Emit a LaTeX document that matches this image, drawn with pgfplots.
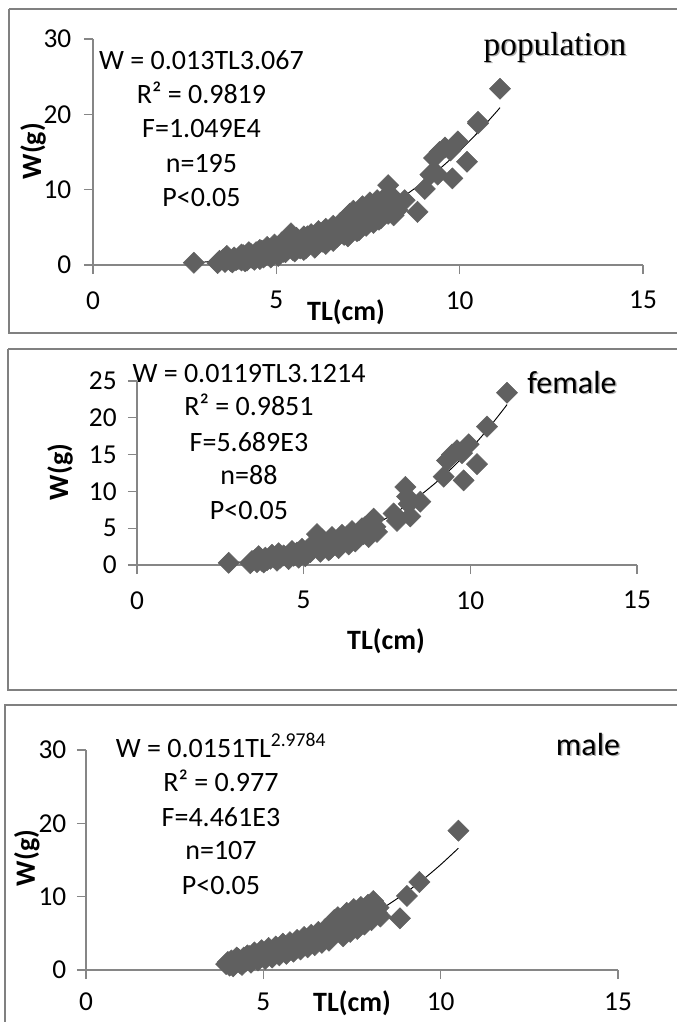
\documentclass[border=0pt]{standalone}
\usepackage{pgfplots}
\pgfplotsset{compat=1.18}
\usepackage{pgfplotstable}
\usepackage{fontspec}
\setmainfont{Carlito}
\newfontfamily\seriffont{Liberation Serif}

\definecolor{axgray}{RGB}{134,134,134}
\definecolor{boxgray}{RGB}{128,128,128}
\definecolor{mk}{RGB}{96,96,96}

% female, n=88
\pgfplotstableread{
x y
2.75 0.30
3.40 0.25
3.45 0.55
3.55 0.75
3.60 0.40
3.65 1.20
3.70 0.90
3.75 0.55
3.80 0.35
3.85 1.00
3.90 0.65
4.00 0.85
4.05 1.40
4.10 1.10
4.20 0.60
4.25 1.60
4.30 1.00
4.40 1.30
4.50 1.15
4.55 0.80
4.60 1.50
4.65 1.90
4.70 1.25
4.80 1.70
4.85 1.00
4.90 1.45
4.95 2.20
5.00 1.60
5.05 1.20
5.10 2.00
5.20 1.75
5.25 2.70
5.30 2.40
5.40 4.20
5.45 3.40
5.50 1.80
5.55 3.50
5.60 2.60
5.70 3.00
5.75 2.00
5.80 2.20
5.85 3.80
5.90 3.30
6.00 2.90
6.05 2.30
6.10 3.60
6.15 4.10
6.20 3.20
6.30 3.90
6.35 2.80
6.40 3.50
6.45 4.60
6.50 4.30
6.55 3.20
6.60 3.80
6.70 4.60
6.75 5.00
6.80 4.20
6.85 5.20
6.90 4.80
6.95 3.80
7.00 5.60
7.05 6.00
7.10 6.30
7.15 5.20
7.20 4.50
7.70 7.00
7.80 6.00
8.05 10.60
8.10 9.30
8.15 8.30
8.20 6.60
8.50 8.60
9.20 12.00
9.30 14.20
9.45 15.00
9.60 15.60
9.75 15.20
9.80 11.50
9.95 16.40
10.20 13.70
10.50 18.80
11.10 23.40
}\female

% male, n=107
\pgfplotstableread{
x y
3.95 0.80
4.00 1.10
4.05 0.60
4.10 1.30
4.15 0.50
4.20 1.00
4.25 1.70
4.30 1.50
4.35 0.90
4.40 0.70
4.45 1.70
4.50 1.20
4.55 2.00
4.60 1.90
4.65 1.00
4.70 1.40
4.75 2.40
4.80 2.10
4.85 1.30
4.90 1.70
4.95 2.70
5.00 2.30
5.05 1.50
5.10 1.90
5.15 3.00
5.20 2.60
5.25 1.70
5.30 2.10
5.35 3.20
5.40 2.90
5.45 2.00
5.50 2.40
5.55 3.60
5.60 3.30
5.65 2.20
5.70 2.70
5.75 3.80
5.80 3.40
5.85 2.50
5.90 2.90
5.95 4.10
6.00 3.80
6.05 2.80
6.10 3.20
6.15 4.50
6.20 4.20
6.25 3.10
6.30 3.60
6.35 4.80
6.40 4.40
6.45 3.40
6.50 3.90
6.55 5.20
6.60 4.80
6.65 3.70
6.70 4.20
6.75 5.60
6.80 5.20
6.85 4.00
6.90 4.50
6.95 6.00
7.00 6.80
7.05 5.50
7.10 7.20
7.15 6.50
7.20 5.00
7.25 4.60
7.30 6.30
7.35 7.80
7.40 7.50
7.45 5.20
7.50 6.00
7.55 8.30
7.60 8.00
7.65 5.60
7.70 6.50
7.75 8.60
7.80 8.30
7.85 6.20
7.90 7.20
7.95 8.90
8.00 8.80
8.05 6.80
8.10 9.40
8.15 9.00
8.20 7.80
8.25 8.50
8.30 7.30
8.85 7.05
9.05 10.10
9.40 12.00
10.50 19.00
}\male

% fitted power curves W = a TL^b, values at the listed TL
\pgfplotstableread{
x y
2.8 0.306
3.0 0.378
3.5 0.606
4.0 0.913
4.5 1.31
5.0 1.81
5.5 2.42
6.0 3.17
6.5 4.05
7.0 5.08
7.5 6.28
8.0 7.65
8.5 9.21
9.0 10.98
9.5 12.96
10.0 15.17
10.5 17.62
11.0 20.32
11.1 20.90
}\popfit

\pgfplotstableread{
x y
2.8 0.296
3.0 0.367
3.5 0.594
4.0 0.901
4.5 1.30
5.0 1.81
5.5 2.44
6.0 3.20
6.5 4.10
7.0 5.17
7.5 6.41
8.0 7.84
8.5 9.48
9.0 11.33
9.5 13.41
10.0 15.74
10.5 18.33
11.0 21.19
11.1 21.80
}\femfit

\pgfplotstableread{
x y
4.0 0.938
4.5 1.332
5.0 1.823
5.5 2.42
6.0 3.14
6.5 3.98
7.0 4.97
7.5 6.10
8.0 7.39
8.5 8.85
9.0 10.50
9.5 12.33
10.0 14.37
10.5 16.61
}\malefit

\pgfplotsset{
  panel/.style={
    scale only axis,
    anchor=south west,
    axis lines=left,
    axis line style={-, draw=axgray, line width=0.9pt},
    tick style={draw=axgray, line width=0.9pt},
    major tick length=6.75pt,
    tick align=outside,
    xmin=0, xmax=15, ymin=0,
    xtick={0,5,10,15},
    clip=false,
    /pgf/number format/assume math mode=true,
    ticklabel style={font=\fontsize{20.5}{24}\selectfont},
    label style={font=\bfseries\fontsize{21}{25}\selectfont},
  },
  pts/.style={only marks, mark=square*, mark size=5.6pt,
    mark options={rotate=45, draw=mk, fill=mk}},
  fit/.style={black, line width=0.7pt, smooth, no marks},
}

\begin{document}
\begin{tikzpicture}
\path[use as bounding box] (0,0) rectangle (507pt,-766.5pt);

% population
\begin{axis}[panel,
  at={(69.75pt,-198.75pt)}, width=412.5pt, height=169.5pt,
  ymax=30, ytick={0,10,20,30},
  xticklabel style={yshift=-9.5pt},
  yticklabel style={xshift=-6pt},
  xlabel={TL(cm)}, ylabel={W(g)},
  xlabel style={at={(rel axis cs:0.46,-0.208)}, anchor=center},
  ylabel style={at={(rel axis cs:-0.109,0.504)}, anchor=center},
]
\addplot[pts] table {\female};
\addplot[pts] table {\male};
\addplot[fit] table {\popfit};
\end{axis}

% female
\begin{axis}[panel,
  at={(102.75pt,-423.75pt)}, width=375pt, height=138pt,
  ymax=25, ytick={0,5,10,15,20,25},
  xticklabel style={yshift=-9.5pt},
  yticklabel style={xshift=-5pt},
  xlabel={TL(cm)}, ylabel={W(g)},
  xlabel style={at={(rel axis cs:0.498,-0.413)}, anchor=center},
  ylabel style={at={(rel axis cs:-0.154,0.505)}, anchor=center},
]
\addplot[pts] table {\female};
\addplot[fit] table {\femfit};
\end{axis}

% male
\begin{axis}[panel,
  at={(64.5pt,-727.5pt)}, width=399pt, height=165pt,
  ymax=30, ytick={0,10,20,30},
  xticklabel style={yshift=-7pt},
  yticklabel style={xshift=-4.5pt},
  xlabel={TL(cm)}, ylabel={W(g)},
  xlabel style={at={(rel axis cs:0.5,-0.15)}, anchor=center},
  ylabel style={at={(rel axis cs:-0.111,0.509)}, anchor=center},
]
\addplot[pts] table {\male};
\addplot[fit] table {\malefit};
\end{axis}

\begin{scope}[x=0.75pt, y=-0.75pt]
  % frames
  \draw[boxgray, line width=1.6pt] (9,9) -- (700,9) (9,9) -- (9,333) -- (700,333);
  \draw[boxgray, line width=1.6pt] (8,349) -- (700,349) (8,349) -- (8,690) -- (700,690);
  \draw[boxgray, line width=1.6pt] (5,1040) -- (5,705) -- (700,705);

  \begin{scope}[every node/.style={anchor=base, inner sep=0pt,
      font=\fontsize{21}{25}\selectfont}]
    \node at (201.5,69) {W = 0.013TL3.067};
    \node at (201.5,103) {R² = 0.9819};
    \node at (201.5,137) {F=1.049E4};
    \node at (201.5,172) {n=195};
    \node at (201.5,206) {P<0.05};

    \node at (249,382) {W = 0.0119TL3.1214};
    \node at (249,415) {R² = 0.9851};
    \node at (249,451) {F=5.689E3};
    \node at (249,484) {n=88};
    \node at (249,519) {P<0.05};

    \node at (221,757) {W = 0.0151TL\textsuperscript{2.9784}};
    \node at (221,791) {R² = 0.977};
    \node at (221,826) {F=4.461E3};
    \node at (221,859) {n=107};
    \node at (221,894) {P<0.05};
  \end{scope}

  \begin{scope}[every node/.style={anchor=base, inner sep=0pt}]
    \node[text=black!30, font=\seriffont\fontsize{25}{30}\selectfont] at (556.5,56.5) {population};
    \node[font=\seriffont\fontsize{25}{30}\selectfont] at (555,55) {population};
    \node[text=black!30, font=\fontsize{24}{28}\selectfont] at (573.5,394.5) {female};
    \node[font=\fontsize{24}{28}\selectfont] at (572,393) {female};
    \node[text=black!30, font=\fontsize{24}{28}\selectfont] at (589.5,756.5) {male};
    \node[font=\fontsize{24}{28}\selectfont] at (588,755) {male};
  \end{scope}
\end{scope}
\end{tikzpicture}
\end{document}
